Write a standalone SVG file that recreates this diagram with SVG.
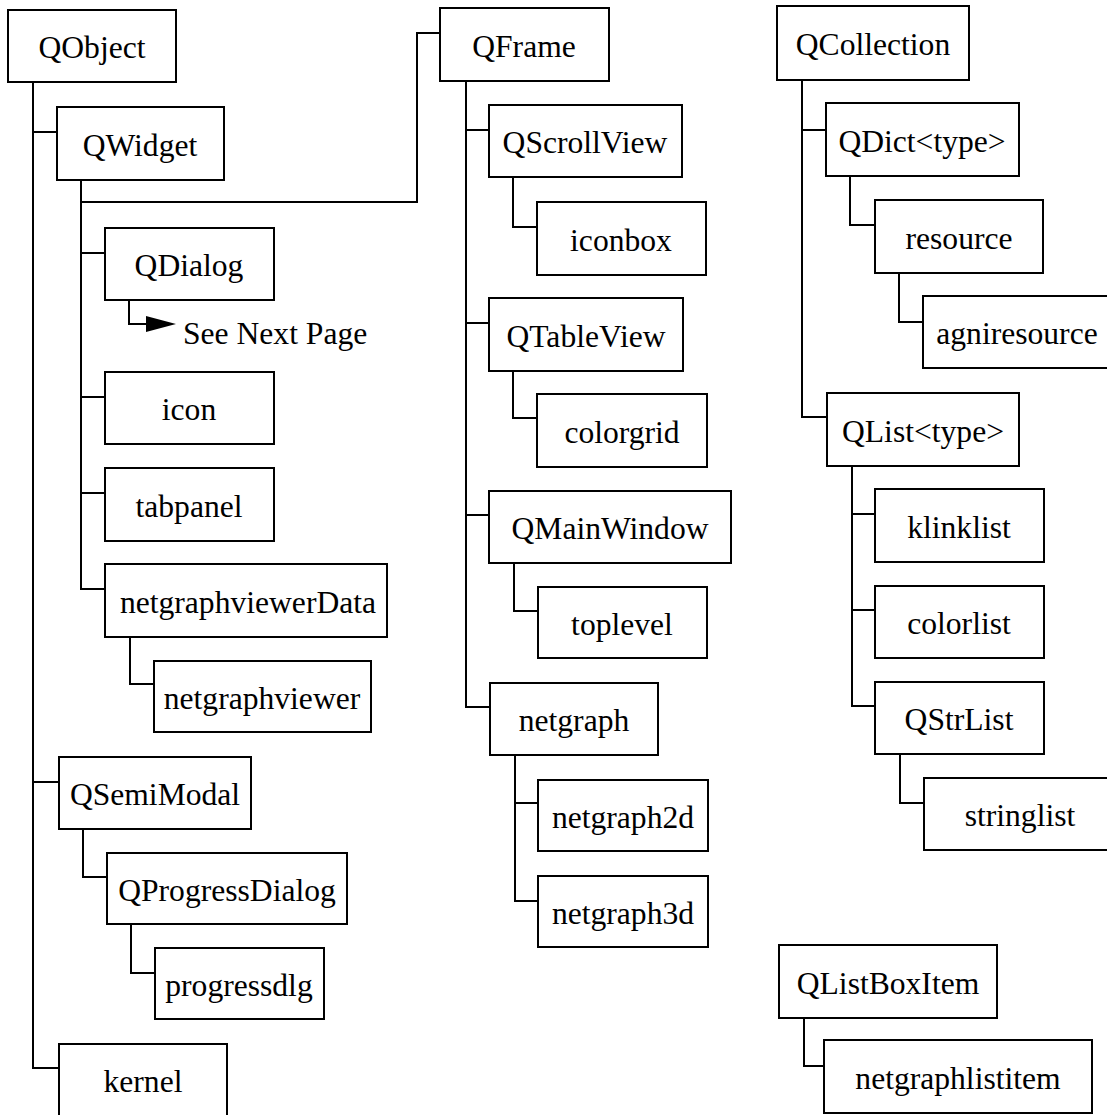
<svg xmlns="http://www.w3.org/2000/svg" width="1107" height="1115" viewBox="0 0 1107 1115">
  <style>
    .box { fill: #fff; stroke: #000; stroke-width: 2; }
    .lbl { font-family: "Liberation Serif", "Times New Roman", serif; font-size: 31.6px; fill: #000; text-anchor: middle; }
    .wire { fill: none; stroke: #000; stroke-width: 2; }
  </style>
  <defs>
    <marker id="arrow" viewBox="0 0 30 16" refX="0" refY="8" markerWidth="30" markerHeight="16" markerUnits="userSpaceOnUse" orient="auto">
      <path d="M0,0 L30,8 L0,16 Z" fill="#000"/>
    </marker>
  </defs>
  <rect width="1107" height="1115" fill="#fff"/>

  <!-- hierarchy connectors -->
  <g id="connectors">
    <!-- QObject trunk -->
    <path class="wire" d="M33,82 V1068 H59"/>
    <path class="wire" d="M33,132 H57"/>
    <path class="wire" d="M33,782 H59"/>
    <!-- QWidget trunk -->
    <path class="wire" d="M81,180 V589 H105"/>
    <path class="wire" d="M81,253 H105"/>
    <path class="wire" d="M81,397 H105"/>
    <path class="wire" d="M81,493 H105"/>
    <path class="wire" d="M81,202 H417 V33 H440"/>
    <path class="wire" d="M130,637 V684 H154"/>
    <!-- QDialog continuation -->
    <path class="wire" d="M129,300 V324 H146" marker-end="url(#arrow)"/>
    <!-- QSemiModal branch -->
    <path class="wire" d="M83,829 V877 H107"/>
    <path class="wire" d="M131,924 V973 H155"/>
    <!-- QFrame trunk -->
    <path class="wire" d="M466,81 V707 H490"/>
    <path class="wire" d="M466,130 H489"/>
    <path class="wire" d="M466,323 H489"/>
    <path class="wire" d="M466,515 H489"/>
    <path class="wire" d="M513,177 V227 H537"/>
    <path class="wire" d="M513,371 V418 H537"/>
    <path class="wire" d="M514,563 V611 H538"/>
    <path class="wire" d="M515,755 V901 H538"/>
    <path class="wire" d="M515,803 H538"/>
    <!-- QCollection trunk -->
    <path class="wire" d="M802,80 V417 H827"/>
    <path class="wire" d="M802,130 H826"/>
    <path class="wire" d="M850,176 V225 H875"/>
    <path class="wire" d="M899,273 V322 H923"/>
    <path class="wire" d="M852,466 V706 H875"/>
    <path class="wire" d="M852,514 H875"/>
    <path class="wire" d="M852,610 H875"/>
    <path class="wire" d="M900,754 V803 H924"/>
    <!-- QListBoxItem -->
    <path class="wire" d="M804,1018 V1066 H824"/>
  </g>

  <text class="lbl" x="183" y="344" style="text-anchor:start">See Next Page</text>

  <g id="QObject"><rect class="box" x="8" y="10" width="168" height="72"/><text class="lbl" x="92" y="58">QObject</text></g>
  <g id="QWidget"><rect class="box" x="57" y="107" width="167" height="73"/><text class="lbl" x="140" y="156">QWidget</text></g>
  <g id="QDialog"><rect class="box" x="105" y="228" width="169" height="72"/><text class="lbl" x="189" y="276">QDialog</text></g>
  <g id="icon"><rect class="box" x="105" y="372" width="169" height="72"/><text class="lbl" x="189" y="420">icon</text></g>
  <g id="tabpanel"><rect class="box" x="105" y="468" width="169" height="73"/><text class="lbl" x="189" y="517">tabpanel</text></g>
  <g id="netgraphviewerData"><rect class="box" x="105" y="564" width="282" height="73"/><text class="lbl" x="248" y="613">netgraphviewerData</text></g>
  <g id="netgraphviewer"><rect class="box" x="154" y="661" width="217" height="71"/><text class="lbl" x="262" y="709">netgraphviewer</text></g>
  <g id="QSemiModal"><rect class="box" x="59" y="757" width="192" height="72"/><text class="lbl" x="155" y="805">QSemiModal</text></g>
  <g id="QProgressDialog"><rect class="box" x="107" y="853" width="240" height="71"/><text class="lbl" x="227" y="901">QProgressDialog</text></g>
  <g id="progressdlg"><rect class="box" x="155" y="948" width="169" height="71"/><text class="lbl" x="239" y="996">progressdlg</text></g>
  <g id="kernel"><rect class="box" x="59" y="1044" width="168" height="90"/><text class="lbl" x="143" y="1092">kernel</text></g>

  <g id="QFrame"><rect class="box" x="440" y="8" width="169" height="73"/><text class="lbl" x="524" y="57">QFrame</text></g>
  <g id="QScrollView"><rect class="box" x="489" y="105" width="193" height="72"/><text class="lbl" x="585" y="153">QScrollView</text></g>
  <g id="iconbox"><rect class="box" x="537" y="202" width="169" height="73"/><text class="lbl" x="621" y="251">iconbox</text></g>
  <g id="QTableView"><rect class="box" x="489" y="298" width="194" height="73"/><text class="lbl" x="586" y="347">QTableView</text></g>
  <g id="colorgrid"><rect class="box" x="537" y="394" width="170" height="73"/><text class="lbl" x="622" y="443">colorgrid</text></g>
  <g id="QMainWindow"><rect class="box" x="489" y="491" width="242" height="72"/><text class="lbl" x="610" y="539">QMainWindow</text></g>
  <g id="toplevel"><rect class="box" x="538" y="587" width="169" height="71"/><text class="lbl" x="622" y="635">toplevel</text></g>
  <g id="netgraph"><rect class="box" x="490" y="683" width="168" height="72"/><text class="lbl" x="574" y="731">netgraph</text></g>
  <g id="netgraph2d"><rect class="box" x="538" y="780" width="170" height="71"/><text class="lbl" x="623" y="828">netgraph2d</text></g>
  <g id="netgraph3d"><rect class="box" x="538" y="876" width="170" height="71"/><text class="lbl" x="623" y="924">netgraph3d</text></g>

  <g id="QCollection"><rect class="box" x="777" y="6" width="192" height="74"/><text class="lbl" x="873" y="55">QCollection</text></g>
  <g id="QDict"><rect class="box" x="826" y="103" width="193" height="73"/><text class="lbl" x="922" y="152">QDict&lt;type&gt;</text></g>
  <g id="resource"><rect class="box" x="875" y="200" width="168" height="73"/><text class="lbl" x="959" y="249">resource</text></g>
  <g id="agniresource"><rect class="box" x="923" y="296" width="200" height="72"/><text class="lbl" x="1017" y="344">agniresource</text></g>
  <g id="QList"><rect class="box" x="827" y="393" width="192" height="73"/><text class="lbl" x="923" y="442">QList&lt;type&gt;</text></g>
  <g id="klinklist"><rect class="box" x="875" y="489" width="169" height="73"/><text class="lbl" x="959" y="538">klinklist</text></g>
  <g id="colorlist"><rect class="box" x="875" y="586" width="169" height="72"/><text class="lbl" x="959" y="634">colorlist</text></g>
  <g id="QStrList"><rect class="box" x="875" y="682" width="169" height="72"/><text class="lbl" x="959" y="730">QStrList</text></g>
  <g id="stringlist"><rect class="box" x="924" y="778" width="200" height="72"/><text class="lbl" x="1020" y="826">stringlist</text></g>
  <g id="QListBoxItem"><rect class="box" x="779" y="945" width="218" height="73"/><text class="lbl" x="888" y="994">QListBoxItem</text></g>
  <g id="netgraphlistitem"><rect class="box" x="824" y="1040" width="268" height="73"/><text class="lbl" x="958" y="1089">netgraphlistitem</text></g>
</svg>
